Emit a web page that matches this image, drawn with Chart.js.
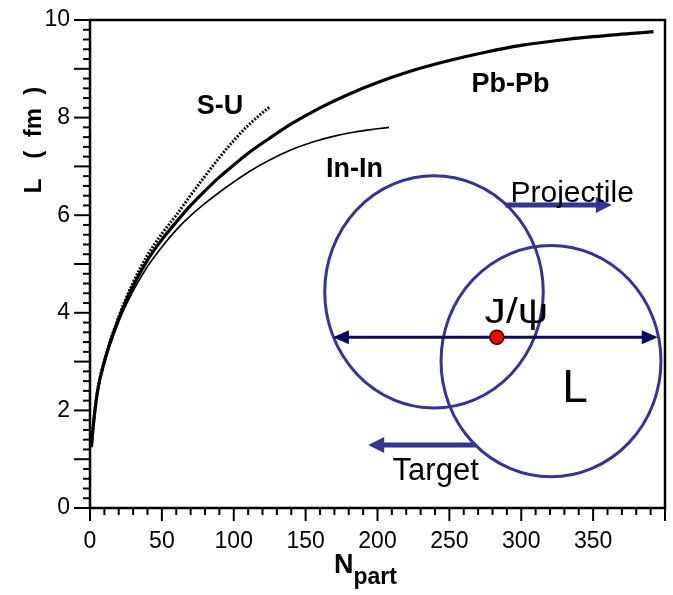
<!DOCTYPE html>
<html>
<head>
<meta charset="utf-8">
<script src="https://cdn.jsdelivr.net/npm/chart.js@4/dist/chart.umd.min.js"></script>
<style>
  html, body { margin: 0; padding: 0; background: #fff; }
  #wrap { width: 673px; height: 595px; position: relative; }
</style>
</head>
<body>
<div id="wrap"><canvas id="c"></canvas></div>
<script>
// Path length L (fm) versus number of participants, per collision system
const nPartPbPb = [1, 2, 5, 10, 20, 30, 40, 50, 60, 70, 80, 90, 100, 110, 125, 140, 160, 180, 200, 225, 250, 275, 300, 325, 350, 375, 392];
const lengthPbPb = [1.25, 1.6, 2.35, 3.0, 3.88, 4.55, 5.08, 5.5, 5.86, 6.2, 6.5, 6.78, 7.03, 7.27, 7.58, 7.87, 8.2, 8.48, 8.72, 8.97, 9.17, 9.34, 9.48, 9.58, 9.66, 9.72, 9.76];

const nPartInIn = [1, 2, 5, 10, 20, 30, 40, 50, 60, 70, 80, 90, 100, 110, 125, 140, 155, 170, 185, 200, 208];
const lengthInIn = [1.25, 1.6, 2.33, 2.97, 3.82, 4.45, 4.95, 5.35, 5.7, 5.99, 6.24, 6.47, 6.68, 6.88, 7.13, 7.34, 7.5, 7.62, 7.71, 7.77, 7.8];

const nPartSU = [1, 2, 5, 10, 20, 30, 40, 50, 60, 70, 80, 90, 100, 110, 118, 125];
const lengthSU = [1.25, 1.6, 2.36, 3.02, 3.92, 4.62, 5.18, 5.62, 6.0, 6.41, 6.8, 7.18, 7.53, 7.84, 8.05, 8.22];

// Axis ranges and tick spacing
const xRange = [0, 400];
const yRange = [0, 10];
const xLabelStep = 50;
const xMinorStep = 10;
const yLabelStep = 2;
const yMajorStep = 1;
const yMinorStep = 0.2;

const toPoints = (xs, ys) => xs.map((v, i) => ({ x: v, y: ys[i] }));

const FONT = '"Liberation Sans", Arial, Helvetica, sans-serif';

function line(ctx, x0, y0, x1, y1) {
  ctx.beginPath(); ctx.moveTo(x0, y0); ctx.lineTo(x1, y1); ctx.stroke();
}

// Horizontal arrow from x0 to tip x1
function arrow(ctx, x0, y, x1, width, headLen, headHalf, color) {
  const dir = Math.sign(x1 - x0);
  ctx.strokeStyle = color; ctx.fillStyle = color; ctx.lineWidth = width;
  line(ctx, x0, y, x1 - dir * headLen * 0.8, y);
  ctx.beginPath();
  ctx.moveTo(x1, y);
  ctx.lineTo(x1 - dir * headLen, y - headHalf);
  ctx.lineTo(x1 - dir * headLen, y + headHalf);
  ctx.closePath(); ctx.fill();
}

// Keep the plot box where it is, regardless of label overhang
function fixScale(size, key) {
  return s => {
    s[key] = size;
    s.paddingTop = 0; s.paddingBottom = 0; s.paddingLeft = 0; s.paddingRight = 0;
  };
}

// Box frame with outward tick marks
const framePlugin = {
  id: 'frame',
  afterDraw(chart) {
    const { ctx, chartArea: a, scales: { x, y } } = chart;
    ctx.save();
    ctx.strokeStyle = '#000';
    ctx.lineWidth = 2.5;
    ctx.strokeRect(a.left, a.top, a.right - a.left, a.bottom - a.top);
    ctx.lineWidth = 2;
    const nx = Math.round((xRange[1] - xRange[0]) / xMinorStep);
    for (let i = 0; i <= nx; i++) {
      const v = xRange[0] + i * xMinorStep;
      const px = x.getPixelForValue(v);
      const len = (v % xLabelStep === 0) ? 13 : 7;
      line(ctx, px, a.bottom, px, a.bottom + len);
    }
    const ny = Math.round((yRange[1] - yRange[0]) / yMinorStep);
    const perMajor = Math.round(yMajorStep / yMinorStep);
    for (let i = 0; i <= ny; i++) {
      const py = y.getPixelForValue(yRange[0] + i * yMinorStep);
      const len = (i % perMajor === 0) ? 16 : 7;
      line(ctx, a.left - len, py, a.left, py);
    }
    ctx.restore();
  }
};

// Axis titles, curve labels and the overlap sketch
const annotatePlugin = {
  id: 'annotate',
  afterDraw(chart) {
    const { ctx, scales: { x, y } } = chart;
    const X = v => x.getPixelForValue(v);
    const Y = v => y.getPixelForValue(v);
    ctx.save();
    ctx.fillStyle = '#000';

    // y-axis title
    ctx.save();
    ctx.translate(34, 140);
    ctx.rotate(-Math.PI / 2);
    ctx.font = 'bold 24px ' + FONT;
    ctx.textAlign = 'center'; ctx.textBaseline = 'middle';
    ctx.fillText('L   (  fm  )', 0, 0);
    ctx.restore();

    // x-axis title
    ctx.textBaseline = 'alphabetic'; ctx.textAlign = 'left';
    ctx.font = 'bold 27px ' + FONT;
    ctx.fillText('N', 334, 573);
    const nW = ctx.measureText('N').width;
    ctx.font = 'bold 23px ' + FONT;
    ctx.fillText('part', 334 + nW, 584);

    // curve labels
    ctx.font = 'bold 27px ' + FONT;
    ctx.textAlign = 'center'; ctx.textBaseline = 'middle';
    ctx.fillText('S-U', X(90.4), Y(8.22));
    ctx.fillText('In-In', X(184), Y(6.94));
    ctx.fillText('Pb-Pb', X(292.5), Y(8.67));

    // two overlapping nuclei
    const blue = '#333399';
    const navy = '#0a0a66';
    ctx.strokeStyle = blue; ctx.lineWidth = 3;
    ctx.beginPath();
    ctx.ellipse(X(239.3), Y(4.43), X(76) - X(0), Y(0) - Y(2.38), 0, 0, Math.PI * 2);
    ctx.stroke();
    ctx.beginPath();
    ctx.ellipse(X(320.7), Y(3.01), X(76.5) - X(0), Y(0) - Y(2.37), 0, 0, Math.PI * 2);
    ctx.stroke();

    // path length L, double arrow
    const yl = Y(3.5);
    const xl0 = X(169), xl1 = X(395);
    arrow(ctx, (xl0 + xl1) / 2, yl, xl1, 3, 16, 7, navy);
    arrow(ctx, (xl0 + xl1) / 2, yl, xl0, 3, 16, 7, navy);

    // J/psi production point
    ctx.beginPath();
    ctx.arc(X(283), yl, 7, 0, Math.PI * 2);
    ctx.fillStyle = '#ff0000'; ctx.fill();
    ctx.lineWidth = 1.5; ctx.strokeStyle = '#300000'; ctx.stroke();

    // motion arrows
    arrow(ctx, X(289), Y(6.21), X(363), 5, 16, 8, blue);
    arrow(ctx, X(268.5), Y(1.29), X(193.5), 5, 16, 8, blue);

    ctx.fillStyle = '#000';
    ctx.textAlign = 'left'; ctx.textBaseline = 'alphabetic';
    ctx.font = '30px ' + FONT;
    ctx.fillText('Projectile', X(292.5), Y(6.27));
    ctx.font = '31px ' + FONT;
    ctx.fillText('Target', X(210.5), Y(0.57));

    // J/psi label, slightly widened
    ctx.save();
    ctx.translate(X(274.5), Y(3.8));
    ctx.scale(1.22, 1);
    ctx.font = '35px ' + FONT;
    ctx.fillText('J/\u03c8', 0, 0);
    ctx.restore();

    ctx.font = '46px ' + FONT;
    ctx.fillText('L', X(328.5), Y(2.18));
    ctx.restore();
  }
};

const ctxEl = document.getElementById('c');
new Chart(ctxEl, {
  type: 'line',
  data: {
    datasets: [
      { label: 'Pb-Pb', data: toPoints(nPartPbPb, lengthPbPb), borderColor: '#000', borderWidth: 3.2, pointRadius: 0, cubicInterpolationMode: 'monotone', fill: false },
      { label: 'In-In', data: toPoints(nPartInIn, lengthInIn), borderColor: '#000', borderWidth: 1.6, pointRadius: 0, cubicInterpolationMode: 'monotone', fill: false },
      { label: 'S-U', data: toPoints(nPartSU, lengthSU), borderColor: '#111', borderWidth: 3, borderDash: [2, 1.5], pointRadius: 0, cubicInterpolationMode: 'monotone', fill: false }
    ]
  },
  options: {
    responsive: true,
    maintainAspectRatio: false,
    animation: false,
    layout: { padding: { top: 20, right: 8, left: 0, bottom: 0 } },
    plugins: { legend: { display: false }, tooltip: { enabled: false } },
    scales: {
      x: {
        type: 'linear', min: xRange[0], max: xRange[1],
        grid: { display: false, drawTicks: false },
        border: { display: false },
        ticks: {
          stepSize: xLabelStep, padding: 20, color: '#000',
          font: { family: FONT, size: 23 },
          maxRotation: 0, autoSkip: false,
          callback: v => (v < xRange[1] ? String(v) : '')
        },
        afterFit: fixScale(87, 'height')
      },
      y: {
        type: 'linear', min: yRange[0], max: yRange[1],
        grid: { display: false, drawTicks: false },
        border: { display: false },
        ticks: {
          stepSize: yLabelStep, padding: 20, color: '#000',
          font: { family: FONT, size: 23 }
        },
        afterFit: fixScale(90, 'width')
      }
    }
  },
  plugins: [framePlugin, annotatePlugin]
});
</script>
</body>
</html>
